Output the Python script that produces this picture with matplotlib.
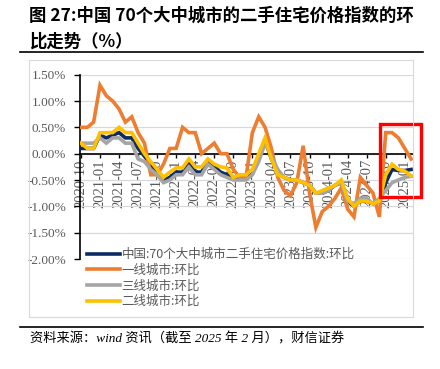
import matplotlib
matplotlib.use("Agg")
import matplotlib.pyplot as plt
from matplotlib.patches import Rectangle
from matplotlib.lines import Line2D
import pandas as pd

# monthly MoM change (%), 2020-10 .. 2025-02
months = pd.period_range("2020-10", "2025-02", freq="M").strftime("%Y-%m").tolist()

natl = [0.1, 0.1, 0.1, 0.35, 0.3, 0.35, 0.4, 0.3, 0.3, 0.1,
        -0.05, -0.2, -0.35, -0.5, -0.45, -0.35, -0.35, -0.15, -0.35, -0.35,
        -0.15, -0.25, -0.35, -0.4, -0.45, -0.45, -0.45, -0.35, -0.1, 0.25,
        -0.1, -0.35, -0.45, -0.5, -0.5, -0.55, -0.6, -0.75, -0.75, -0.7,
        -0.6, -0.55, -0.9, -1.0, -0.9, -0.9, -0.95, -0.9, -0.55, -0.3,
        -0.32, -0.32, -0.3]
tier1 = [0.5, 0.5, 0.6, 1.3, 1.1, 1.0, 0.85, 0.6, 0.7, 0.4,
         0.2, -0.4, -0.4, -0.2, 0.1, 0.1, 0.5, 0.4, 0.4, 0.0,
         0.1, 0.2, 0.0, 0.0, -0.3, -0.45, -0.45, 0.4, 0.7, 0.5,
         0.1, -0.45, -0.7, -0.8, -0.55, 0.15, -0.75, -1.4, -1.1, -1.0,
         -0.85, -0.65, -1.05, -1.2, -0.45, -0.6, -0.75, -1.2, 0.4, 0.4,
         0.3, 0.1, -0.1]
tier3 = [0.2, 0.2, 0.2, 0.3, 0.2, 0.3, 0.3, 0.2, 0.2, -0.1,
         -0.15, -0.3, -0.4, -0.55, -0.5, -0.4, -0.4, -0.25, -0.4, -0.4,
         -0.2, -0.3, -0.4, -0.45, -0.5, -0.5, -0.5, -0.4, -0.15, 0.2,
         -0.05, -0.3, -0.45, -0.5, -0.5, -0.55, -0.6, -0.75, -0.75, -0.7,
         -0.6, -0.55, -0.9, -0.95, -0.85, -0.85, -0.95, -0.85, -0.7, -0.55,
         -0.5, -0.45, -0.43]
tier2 = [0.2, 0.1, 0.1, 0.4, 0.4, 0.4, 0.5, 0.4, 0.4, 0.2,
         0.0, -0.15, -0.3, -0.45, -0.35, -0.27, -0.27, -0.1, -0.25, -0.25,
         -0.1, -0.2, -0.25, -0.27, -0.45, -0.4, -0.4, -0.3, 0.0, 0.3,
         -0.1, -0.4, -0.45, -0.5, -0.5, -0.55, -0.6, -0.75, -0.7, -0.65,
         -0.6, -0.5, -0.85, -1.0, -0.9, -0.9, -0.95, -0.9, -0.4, -0.2,
         -0.3, -0.33, -0.42]

labels = ["中国:70个大中城市二手住宅价格指数:环比", "一线城市:环比", "三线城市:环比", "二线城市:环比"]
colors = ["#0c2a66", "#ED7D31", "#A5A5A5", "#FFC000"]
yticks = [1.5, 1.0, 0.5, 0.0, -0.5, -1.0, -1.5, -2.0]

plt.rcParams['font.family'] = ['Noto Sans CJK SC', 'DejaVu Sans']

W, H = 440, 369
fig = plt.figure(figsize=(W / 100, H / 100), dpi=100)
fx = lambda px: px / W
fy = lambda py: 1 - py / H

ax = fig.add_axes([fx(80), fy(259), fx(413) - fx(80), fy(74.7) - fy(259)])
# move the x axis to zero first: set_position resets the ticks
for s in ['top', 'right']:
    ax.spines[s].set_visible(False)
ax.spines['bottom'].set_position(('data', 0))
ax.spines['left'].set_linewidth(1.2)
ax.spines['bottom'].set_linewidth(1.2)

x = list(range(len(months)))
for ys, c, lab in zip([natl, tier1, tier3, tier2], colors, labels):
    ax.plot(x, ys, color=c, lw=2.6, label=lab, solid_joinstyle='miter', zorder=3)

ax.set_xlim(-0.15, 52.3)
ax.set_ylim(-2.0, 1.5)
ax.set_yticks(yticks)
ax.set_yticklabels(["%.2f%%" % v for v in yticks], family='Liberation Serif',
                   fontsize=9.5, color='#595959')
ax.set_xticks(x[::3])
ax.set_xticklabels(months[::3], rotation=90, family='Liberation Serif',
                   fontsize=10.5, color='#595959')
ax.tick_params(axis='y', length=4, width=1, direction='out', pad=6)
ax.tick_params(axis='x', length=3, width=1, direction='out', pad=1)
ax.grid(axis='y', color='#d9d9d9', lw=0.9)
ax.set_axisbelow('line')

# highlight box on the latest months
ax.add_patch(Rectangle((47.1, -0.82), 6.4, 1.385, fill=False, ec='#ff0000',
                       lw=2.4, clip_on=False, zorder=5))

fig.legend(loc='upper left', bbox_to_anchor=(fx(87), fy(248)), frameon=False,
           fontsize=9, handlelength=2.6, handletextpad=0.15, labelspacing=0.22,
           borderpad=0, borderaxespad=0, labelcolor='#595959')

# chart frame and rules
fig.add_artist(Rectangle((fx(29), fy(316.5)), fx(413) - fx(29), fy(60) - fy(316.5),
                         fill=False, ec='#d9d9d9', lw=0.8, transform=fig.transFigure))
fig.add_artist(Line2D([fx(20), fx(423)], [fy(52), fy(52)], color='black', lw=1.2,
                      transform=fig.transFigure))
fig.add_artist(Line2D([fx(20), fx(423)], [fy(326.5), fy(326.5)], color='black', lw=1.2,
                      transform=fig.transFigure))

fig.text(fx(29), fy(16), "图 27:中国 70个大中城市的二手住宅价格指数的环", fontsize=12.5,
         fontweight='bold', va='center', ha='left')
fig.text(fx(29), fy(42), "比走势（%）", fontsize=12.5, fontweight='bold', va='center', ha='left')
fig.text(fx(30), fy(339), "资料来源：wind 资讯（截至 2025 年 2 月），财信证券", fontsize=9.5,
         family=['Liberation Serif', 'Noto Sans CJK SC'], style='italic',
         va='center', ha='left')

fig.savefig("out.png", dpi=100)
